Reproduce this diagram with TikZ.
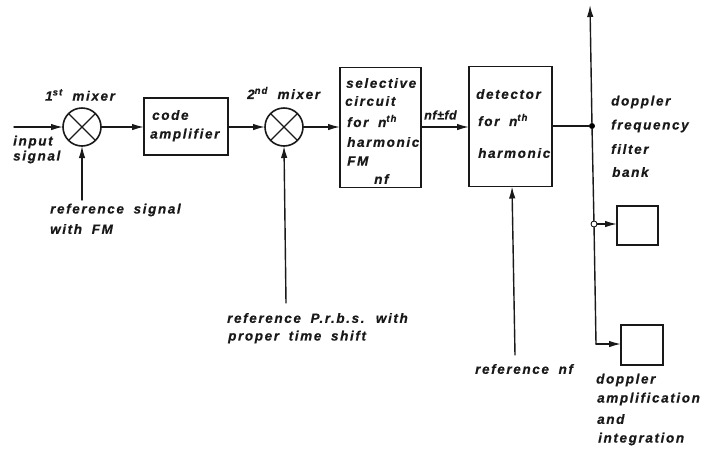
\documentclass[tikz,border=0pt]{standalone}
\usepackage{fontspec}
\setmainfont[WordSpace=1.8]{Liberation Sans}
\usetikzlibrary{arrows.meta,calc}
\tikzset{
  wire/.style={line width=1.4pt,line cap=round,black!90},
  sig/.style={wire,-{Latex[length=12pt,width=6.5pt]}},
  blockbox/.style={draw=black!90,line width=1.6pt,inner sep=0pt,outer sep=0pt,anchor=north west},
  mixer/.style={draw=black!90,line width=1.6pt,circle,minimum size=38pt,inner sep=0pt,outer sep=0pt,
    path picture={\draw[line width=1.2pt] (path picture bounding box.north west)--(path picture bounding box.south east)
      (path picture bounding box.north east)--(path picture bounding box.south west);}},
  lab/.style={anchor=west,inner sep=0pt,font=\fontsize{13.5}{15}\selectfont\bfseries\itshape,black!90,execute at begin node={\addfontfeature{LetterSpace=12,FakeBold=0.5}}},
  tight/.style={font=\fontsize{12.5}{15}\selectfont\bfseries\itshape,execute at begin node={\addfontfeature{LetterSpace=4,FakeBold=0.5}}},
  dotj/.style={circle,fill=black,inner sep=0pt,minimum size=6pt},
  opendot/.style={circle,draw=black,line width=0.8pt,inner sep=0pt,minimum size=6pt}
}
\newcommand{\sups}[1]{\textsuperscript{#1}}
\begin{document}
\begin{tikzpicture}[x=1pt,y=-1pt]
\useasboundingbox[fill=white] (0,0) rectangle (717,448);
% blocks
\node[mixer] (m1) at (82,127) {};
\node[mixer] (m2) at (284,127) {};
\node[blockbox,minimum width=84pt,minimum height=57pt] (amp) at (144,98) {};
\node[blockbox,minimum width=81pt,minimum height=120pt] (sel) at (340,67.5) {};
\node[blockbox,minimum width=83pt,minimum height=120pt] (det) at (469,66.5) {};
\node[blockbox,minimum width=41pt,minimum height=39pt] (fb) at (617,206) {};
\node[blockbox,minimum width=42pt,minimum height=40pt] (ai) at (621,325) {};
% junctions and free ends
\node[dotj] (j1) at (592,126) {};
\node[opendot] (j2) at (594,224) {};
\coordinate (in) at (14,127);
\coordinate (r1) at (82,200);
\coordinate (r2) at (286,303);
\coordinate (r3) at (515,355);
\coordinate (top) at (590,5);
\coordinate (bend) at (596,344);
% connectors
\draw[sig] (in) -- (m1.west);
\draw[sig] (r1) -- (m1.south);
\draw[sig] (m1.east) -- (amp.west |- m1.east);
\draw[sig] (amp.east |- m2.west) -- (m2.west);
\draw[sig] (r2) -- (m2.south);
\draw[sig] (m2.east) -- (sel.west |- m2.east);
\draw[sig] (sel.east |- 0,127) -- (det.west |- 0,127);
\draw[wire] (det.east |- j1) -- (j1);
\draw[sig] (r3) -- (512,186.5);
\draw[sig] (j1) -- (top);
\draw[wire] (j1) -- (j2) -- (bend);
\draw[sig] (j2) -- (fb.west |- j2);
\draw[sig] (bend) -- (ai.west |- bend);
% labels
\node[lab] (t1) at (45,95) {1\sups{st} mixer};
\node[lab] (t2) at (247,93) {2\sups{nd} mixer};
\node[lab] (t3) at (13,142) {input};
\node[lab] (t4) at (13,157) {signal};
\node[lab] (t5) at (50,210) {reference signal};
\node[lab] (t6) at (50,229) {with FM};
\node[lab] (t7) at (152,115) {code};
\node[lab] (t8) at (150,135) {amplifier};
\node[lab] (t9) at (346,83) {selective};
\node[lab] (t10) at (345,101) {circuit};
\node[lab] (t11) at (347,121) {for n\sups{th}};
\node[lab] (t12) at (347,142) {harmonic};
\node[lab] (t13) at (347,161) {FM};
\node[lab] (t14) at (374,179) {nf};
\node[lab,tight] (t15) at (424,115) {nf±fd};
\node[lab] (t16) at (476,94) {detector};
\node[lab] (t17) at (478,120) {for n\sups{th}};
\node[lab] (t18) at (478,153) {harmonic};
\node[lab] (t19) at (611,102) {doppler};
\node[lab] (t20) at (611,126) {frequency};
\node[lab] (t21) at (611,149) {filter};
\node[lab] (t22) at (612,172) {bank};
\node[lab] (t23) at (227,318) {reference P.r.b.s. with};
\node[lab] (t24) at (228,337) {proper time shift};
\node[lab] (t25) at (475,369) {reference nf};
\node[lab] (t26) at (596,380) {doppler};
\node[lab] (t27) at (597,399) {amplification};
\node[lab] (t28) at (597,419) {and};
\node[lab] (t29) at (598,439) {integration};
\end{tikzpicture}
\end{document}
